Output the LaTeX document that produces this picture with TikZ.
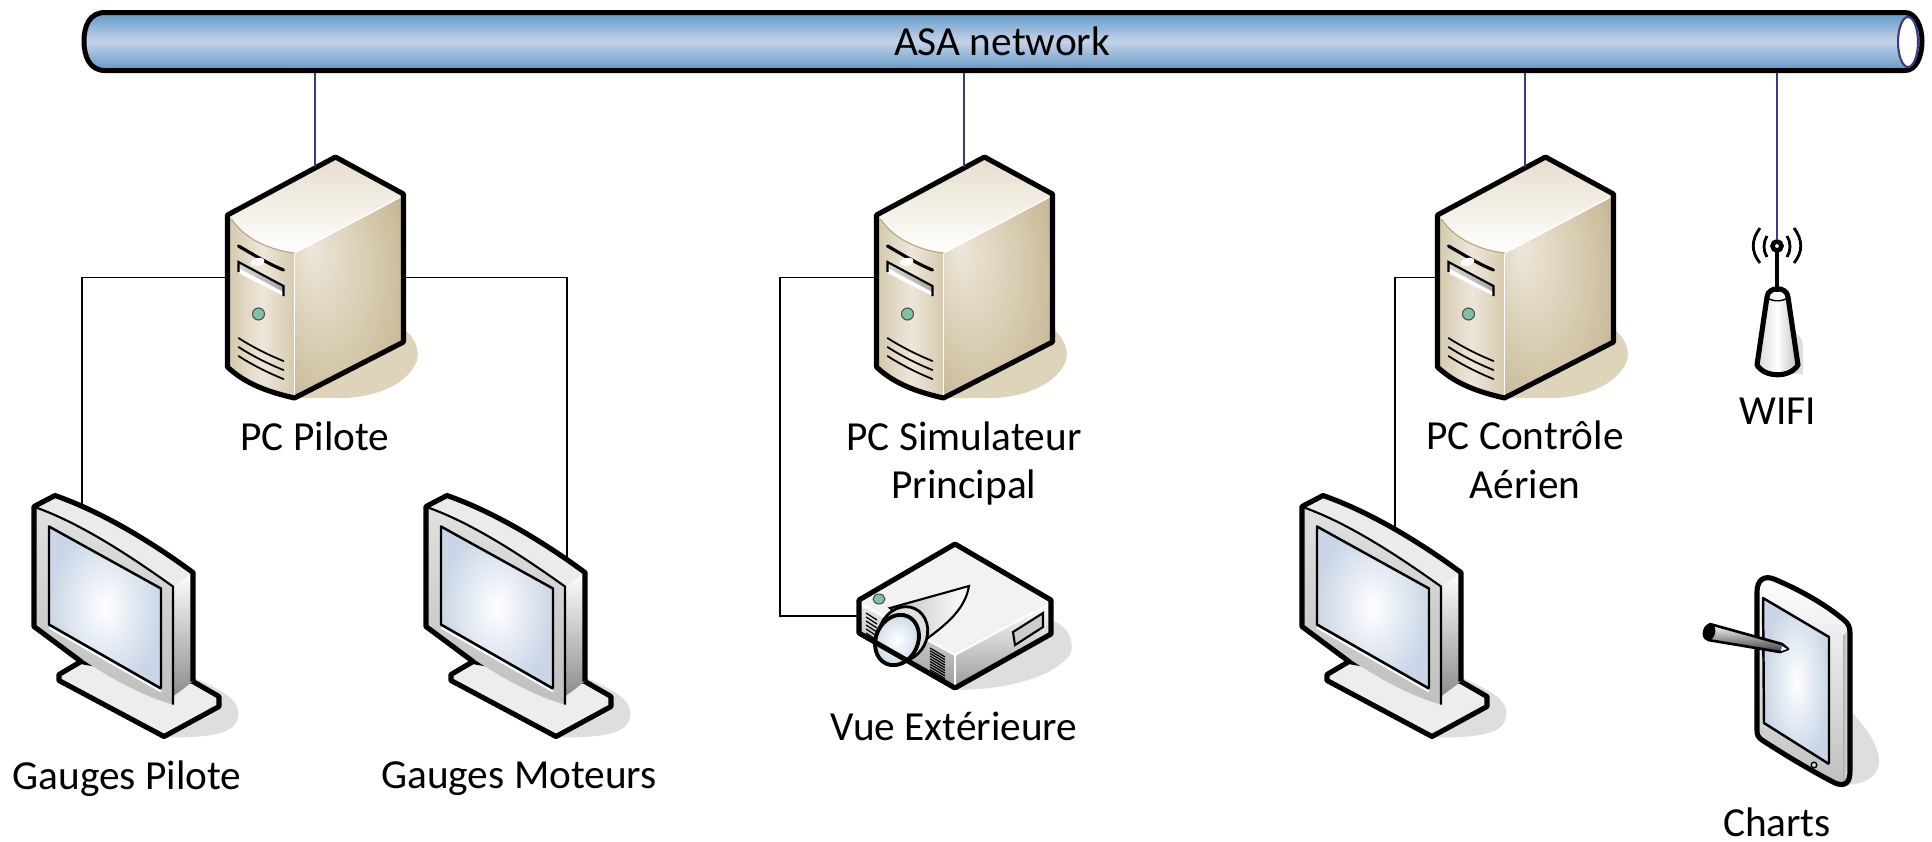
\documentclass[tikz,border=0pt]{standalone}
\usepackage{fontspec}
\setmainfont{Carlito}
\usetikzlibrary{positioning,calc}

\definecolor{pipeBlue}{HTML}{6299C8}
\definecolor{pipeLight}{HTML}{C4D2E8}
\definecolor{navyLine}{HTML}{3A3A85}
\definecolor{tanShadow}{HTML}{DDD4BA}
\definecolor{tanLight}{HTML}{EDE7D9}
\definecolor{tanMid}{HTML}{D6CAAE}
\definecolor{tanDark}{HTML}{B5A37A}
\definecolor{ledGreen}{HTML}{7FC0A6}
\definecolor{greyShadow}{HTML}{DEDEDE}
\definecolor{screenBlue}{HTML}{CAD6E7}

\pgfdeclareradialshading{srvside}{\pgfpoint{-18bp}{12bp}}{color(0bp)=(tanLight); color(22bp)=(tanMid); color(50bp)=(tanDark)}

\newcommand{\tabletoutline}{(1757,592) .. controls (1757,580) and (1764,575) .. (1774,579) .. controls (1800,590) and (1825,604) .. (1844,620) .. controls (1848,623) and (1850,627) .. (1850,633) -- (1850,771) .. controls (1850,783) and (1845,787) .. (1835,783) .. controls (1810,770) and (1785,755) .. (1762,740) .. controls (1758,737) and (1757,735) .. (1757,730) -- cycle}

\tikzset{
  thickedge/.style={line width=1.45pt,line join=round},
  wire/.style={line width=0.5pt},
  netwire/.style={line width=0.55pt,draw=navyLine},
  caption/.style={font=\fontsize{11.75}{13.9}\selectfont,align=center,inner sep=0pt},
  screen/.pic={
    \shade[inner color=white,outer color=screenBlue] (48,525) -- (160,587) -- (160,687) -- (48,623) -- cycle;
    \draw[white,line width=0.5pt] (48,626) -- (160,690);
    \draw[line width=0.7pt,line join=round] (160,687) -- (160,587) -- (48,525) -- (48,623) -- (160,687);
  },
  monitor/.pic={
    \fill[greyShadow] (190,675) .. controls (225,690) and (240,700) .. (237,715) .. controls (235,735) and (200,736) .. (163,736) -- cycle;
    \filldraw[fill=white!93!black,thickedge] (80,660) -- (58,673) -- (58,679) -- (163,735) -- (218,705) -- (218,695) -- (192,680) -- cycle;
    \shade[top color=white,bottom color=black!45] (172,585) -- (192,571) -- (192,680) -- (172,695) -- cycle;
    \fill[black!8] (35,506) -- (54,496) .. controls (100,510) and (150,540) .. (192,571) -- (172,585) .. controls (130,555) and (80,522) .. (35,506) -- cycle;
    \shade[top color=black!12,bottom color=black!25] (35,506) .. controls (80,522) and (130,555) .. (172,585) -- (172,703) .. controls (125,690) and (75,655) .. (35,625) -- cycle;
    \draw[line width=0.6pt] (35,506) .. controls (80,522) and (130,555) .. (172,585) -- (172,703);
    \pic {screen};
    \draw[thickedge] (80,660) -- (33,625) -- (33,505) -- (54,494) .. controls (100,510) and (150,540) .. (192,571) -- (192,680);
  },
  server/.pic={
    \fill[tanShadow] (403,327) .. controls (415,335) and (420,350) .. (416,360) .. controls (405,385) and (370,396) .. (340,396) -- (294,396) -- cycle;
    \shade[left color=tanMid,right color=tanMid,middle color=tanLight] (229,215) .. controls (245,238) and (270,248) .. (294,251) -- (294,398) .. controls (268,392) and (245,382) .. (229,365) -- cycle;
    \shade[shading=srvside] (294,251) -- (402,193) -- (402,340) -- (294,398) -- cycle;
    \shade[top color=tanLight!70!tanMid,bottom color=white] (229,215) -- (335,155) -- (402,193) -- (294,251) .. controls (270,248) and (245,238) .. (229,215) -- cycle;
    \draw[white,line width=0.4pt] (294,251) -- (294,398);
    \draw[white,line width=0.4pt] (294,251) -- (400,195);
    \draw[tanDark,line width=0.3pt] (231,217) .. controls (245,238) and (270,248) .. (294,251);
    \draw[line width=0.9pt,line cap=round] (238,244) .. controls (252,252) and (268,262) .. (283,268);
    \fill[white!92!tanMid,rotate around={15:(257,260)}] (257,260) ellipse (7 and 4);
    \fill[white] (238,260) -- (283,284) -- (283,294) -- (238,271) -- cycle;
    \shade[left color=black!15,right color=black!35] (238,260) -- (283,284) -- (283,290) -- (238,266) -- cycle;
    \draw[line width=0.6pt] (238,270) -- (238,260) -- (283,284) -- (283,294);
    \filldraw[fill=ledGreen,draw=black!70,line width=0.3pt] (258,312) circle (6);
    \foreach \yy in {336,345,354}
      \draw[line width=0.5pt,line cap=round] (238,\yy) .. controls (252,\yy+9) and (268,\yy+17) .. (283,\yy+23);
    \draw[thickedge] (227,213) -- (335,155) -- (403,192) -- (403,340) -- (294,396) .. controls (268,390) and (245,382) .. (227,365) -- cycle;
    \coordinate (-top) at (314.5,165);
    \coordinate (-left) at (227,275.5);
    \coordinate (-right) at (403,275.5);
  },
  projector/.pic={
    \fill[greyShadow] (1050,620) .. controls (1070,625) and (1075,645) .. (1070,655) .. controls (1050,680) and (1000,690) .. (955,690) -- cycle;
    \fill[white!95!black] (857,600) -- (955,542) -- (1053,600) -- (955,657) -- cycle;
    \shade[top color=white,bottom color=black!40] (955,655) -- (1052,602) -- (1052,635) -- (955,690) -- cycle;
    \shade[top color=black!8,bottom color=black!40] (857,602) -- (955,655) -- (955,690) -- (857,633) -- cycle;
    \draw[white,line width=0.5pt] (860,604) -- (955,655) -- (1049,604);
    \draw[white,line width=0.5pt] (955,655) -- (955,690);
    \filldraw[fill=black!20,line width=0.6pt] (1013,632) -- (1043,613) -- (1043,627) -- (1015,645) -- cycle;
    \filldraw[fill=ledGreen,draw=black!70,line width=0.3pt] (879,599) ellipse (6 and 5);
    \foreach \tt in {0,...,6}
      \draw[line width=0.35pt] (866,613+\tt*4) -- (877,620+\tt*4);
    \foreach \tt in {0,...,9}
      \draw[line width=0.35pt] (930,648+\tt*2.7) -- (945,657+\tt*2.7);
    \shade[left color=black!25,right color=white,line width=0.6pt,draw=black] (890,608) -- (969,586) .. controls (965,610) and (945,625) .. (928,638) -- cycle;
    \filldraw[fill=black!12,line width=0.8pt,rotate around={-25:(903,634)}] (903,634) ellipse (24 and 28);
    \shade[inner color=white,outer color=screenBlue,draw=black,line width=1.1pt,rotate around={-25:(897,640)}] (897,640) ellipse (21 and 26);
    \draw[thickedge] (859,600) -- (955,544) -- (1051,600) -- (1051,634) -- (955,688) -- (859,633) -- cycle;
    \coordinate (-left) at (858,616);
  },
  tablet/.pic={
    \fill[greyShadow] (1840,700) .. controls (1865,725) and (1880,745) .. (1879,763) .. controls (1877,780) and (1860,785) .. (1840,785) -- cycle;
    \shade[top color=white,bottom color=black!25] \tabletoutline;
    \shade[left color=black!30,right color=white] (1843,636) -- (1850,628) -- (1850,770) .. controls (1850,780) and (1847,784) .. (1843,784) -- cycle;
    \shade[inner color=white,outer color=screenBlue] (1764,598) -- (1829,637) -- (1829,764) -- (1764,723) -- cycle;
    \draw[line width=0.7pt,line join=round] (1829,764) -- (1829,637) -- (1763,598) -- (1764,723) -- (1829,764);
    \filldraw[fill=ledGreen!40!white,draw=black,line width=0.4pt] (1814,765) circle (2.8);
    \draw[thickedge] \tabletoutline;
    \shade[top color=white,bottom color=black!75,draw=black,line width=0.75pt,line join=round] (1710,624) -- (1782,644) -- (1788,649) -- (1780,652) -- (1708,640) -- cycle;
    \filldraw[fill=black,draw=black,rotate around={-15:(1709,632)}] (1709,632) ellipse (5.5 and 8);
    \fill[white] (1782,646) -- (1787,649) -- (1781,651) -- cycle;
  },
  antenna/.pic={
    \fill[greyShadow] (1790,345) circle (13);
    \fill[greyShadow] (1790,345) rectangle (1803,374);
    \shade[left color=black!15,right color=black!25,middle color=white] (1767,297) -- (1788,297) -- (1798,365) .. controls (1790,378) and (1765,378) .. (1757,365) -- cycle;
    \draw[thickedge] (1767,297) .. controls (1768,286) and (1787,286) .. (1788,297) -- (1798,365) .. controls (1790,378) and (1765,378) .. (1757,365) -- cycle;
    \draw[line width=0.4pt] (1767,297) .. controls (1770,302) and (1785,302) .. (1788,297);
    \draw[line width=1.4pt] (1777,246) -- (1777,292);
    \filldraw[fill=white,line width=1.3pt] (1777,246) circle (4.5);
    \foreach \sx in {-1,1}{
      \draw[line width=0.8pt] (1777+\sx*10,236) .. controls (1777+\sx*14,242) and (1777+\sx*14,251) .. (1777+\sx*10,257);
      \draw[line width=0.8pt] (1777+\sx*17,228) .. controls (1777+\sx*26,240) and (1777+\sx*26,252) .. (1777+\sx*17,263);
    }
    \coordinate (-top) at (1777,240);
  }
}

\begin{document}
\begin{tikzpicture}[x=0.01cm,y=-0.01cm]
  \useasboundingbox (0,0) rectangle (1932,841);

  \shade[top color=pipeBlue,bottom color=pipeBlue,middle color=pipeLight,draw=black,line width=1.42pt] (105,12.5) -- (1905,12.5) .. controls (1916,12.5) and (1922,27) .. (1922,41) .. controls (1922,57) and (1916,70.5) .. (1905,70.5) -- (105,70.5) .. controls (90,70.5) and (84,57) .. (84,41) .. controls (84,25) and (90,12.5) .. (105,12.5) -- cycle;
  \filldraw[fill=white,draw=navyLine,line width=0.6pt] (1908,42) ellipse (10 and 25);
  \node[caption] (asaNet) at (1002,41) {ASA network};
  \foreach \nn/\xx in {busA/315,busB/964,busC/1525,busD/1777}
    \coordinate (\nn) at (\xx,73);

  \foreach \nm/\dx in {srvA/0,srvB/649,srvC/1210}
    \pic (\nm) at (\dx+0.5,2) {server};
  \foreach \nm/\dx in {monA/1,monB/393,monC/1269}
    \pic at (\dx,1.5) {monitor};
  \pic (beamer) at (0,0) {projector};
  \pic at (0,0) {tablet};
  \pic (wifi) at (0,0) {antenna};

  \coordinate (portA) at (82,505);
  \coordinate (portB) at (567,558);
  \coordinate (portC) at (1395,528);

  \draw[netwire] (busA) -- (srvA-top);
  \draw[netwire] (busB) -- (srvB-top);
  \draw[netwire] (busC) -- (srvC-top);
  \draw[netwire] (busD) -- (wifi-top);
  \draw[wire] (srvA-left) -| (portA);
  \draw[wire] (srvA-right) -| (portB);
  \draw[wire] (srvB-left) -| (780,616) -- (beamer-left);
  \draw[wire] (srvC-left) -| (portC);

  \node[caption] (pilote) at (315,436) {PC Pilote};
  \node[caption] (simul) at (964,463.5) {PC Simulateur\\Principal};
  \node[caption] (control) at (1525,460) {PC Contrôle\\Aérien};
  \node[caption] (wifiTxt) at (1778,411) {WIFI};
  \node[caption] (gaugeP) at (127,779) {Gauges Pilote};
  \node[caption] (gaugeM) at (519,779) {Gauges Moteurs};
  \node[caption] (vue) at (954,726) {Vue Extérieure};
  \node[caption] (charts) at (1777,822) {Charts};
\end{tikzpicture}
\end{document}
